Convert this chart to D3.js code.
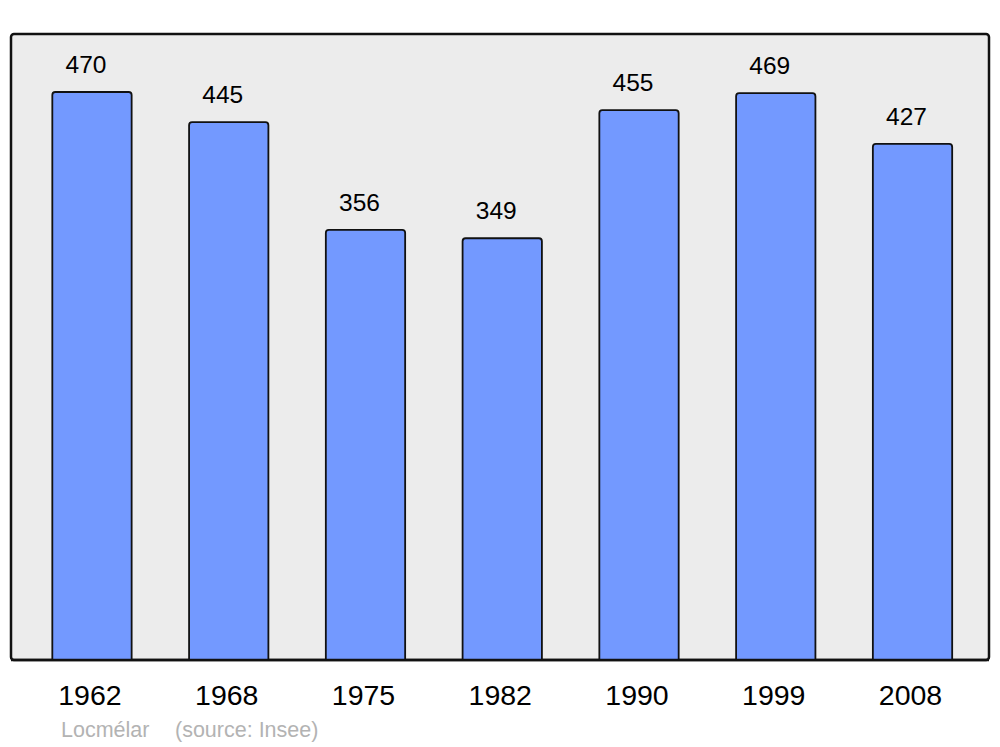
<!DOCTYPE html>
<html><head><meta charset="utf-8">
<script src="https://cdn.jsdelivr.net/npm/d3@7"></script>
<style>body{margin:0;background:#fff}svg{display:block}</style>
</head><body>
<svg id="c" width="1000" height="747"></svg>
<script>
const years = ["1962","1968","1975","1982","1990","1999","2008"];
const population = [470,445,356,349,455,469,427];
const commune = "Locmélar";
const source = "(source: Insee)";

const svg = d3.select("#c");
const font = "'Liberation Sans', Arial, sans-serif";
const panel = {x0: 11, x1: 989, y0: 34, y1: 660};

svg.append("rect").attr("x", panel.x0).attr("y", panel.y0)
  .attr("width", panel.x1 - panel.x0).attr("height", panel.y1 - panel.y0)
  .attr("rx", 3).attr("fill", "#ececec").attr("stroke", "#111").attr("stroke-width", 2.5);

const x = d3.scaleBand().domain(years).range([23.6, 980.9]).paddingInner(0.42).paddingOuter(0.21);
const y = d3.scaleLinear().domain([0, 518]).range([panel.y1, panel.y0]);

const data = years.map((yr, i) => ({yr, v: population[i]}));

function barPath(d) {
  const x0 = x(d.yr), w = x.bandwidth(), t = y(d.v), b = y(0), r = 3;
  return `M${x0},${b}V${t + r}Q${x0},${t} ${x0 + r},${t}H${x0 + w - r}Q${x0 + w},${t} ${x0 + w},${t + r}V${b}`;
}

svg.selectAll("path.bar").data(data).enter().append("path").attr("class", "bar")
  .attr("d", barPath).attr("fill", "#7399ff").attr("stroke", "#111").attr("stroke-width", 1.8);

svg.append("line").attr("x1", panel.x0).attr("x2", panel.x1).attr("y1", panel.y1).attr("y2", panel.y1)
  .attr("stroke", "#111").attr("stroke-width", 2.5);

svg.selectAll("text.val").data(data).enter().append("text").attr("class", "val")
  .attr("x", d => x(d.yr) + x.bandwidth() / 2 - 6).attr("y", d => y(d.v) - 19)
  .attr("text-anchor", "middle").attr("font-family", font).attr("font-size", 24.5).attr("fill", "#000")
  .text(d => d.v);

svg.selectAll("text.yr").data(data).enter().append("text").attr("class", "yr")
  .attr("x", d => x(d.yr) + x.bandwidth() / 2 - 2).attr("y", 705)
  .attr("text-anchor", "middle").attr("font-family", font).attr("font-size", 28.5).attr("fill", "#000")
  .text(d => d.yr);

svg.append("text").attr("x", 61).attr("y", 737).attr("font-family", font).attr("font-size", 21.5)
  .attr("fill", "#b3b3b3").text(commune);
svg.append("text").attr("x", 175).attr("y", 737).attr("font-family", font).attr("font-size", 21.5)
  .attr("fill", "#b3b3b3").text(source);
</script>
</body></html>
